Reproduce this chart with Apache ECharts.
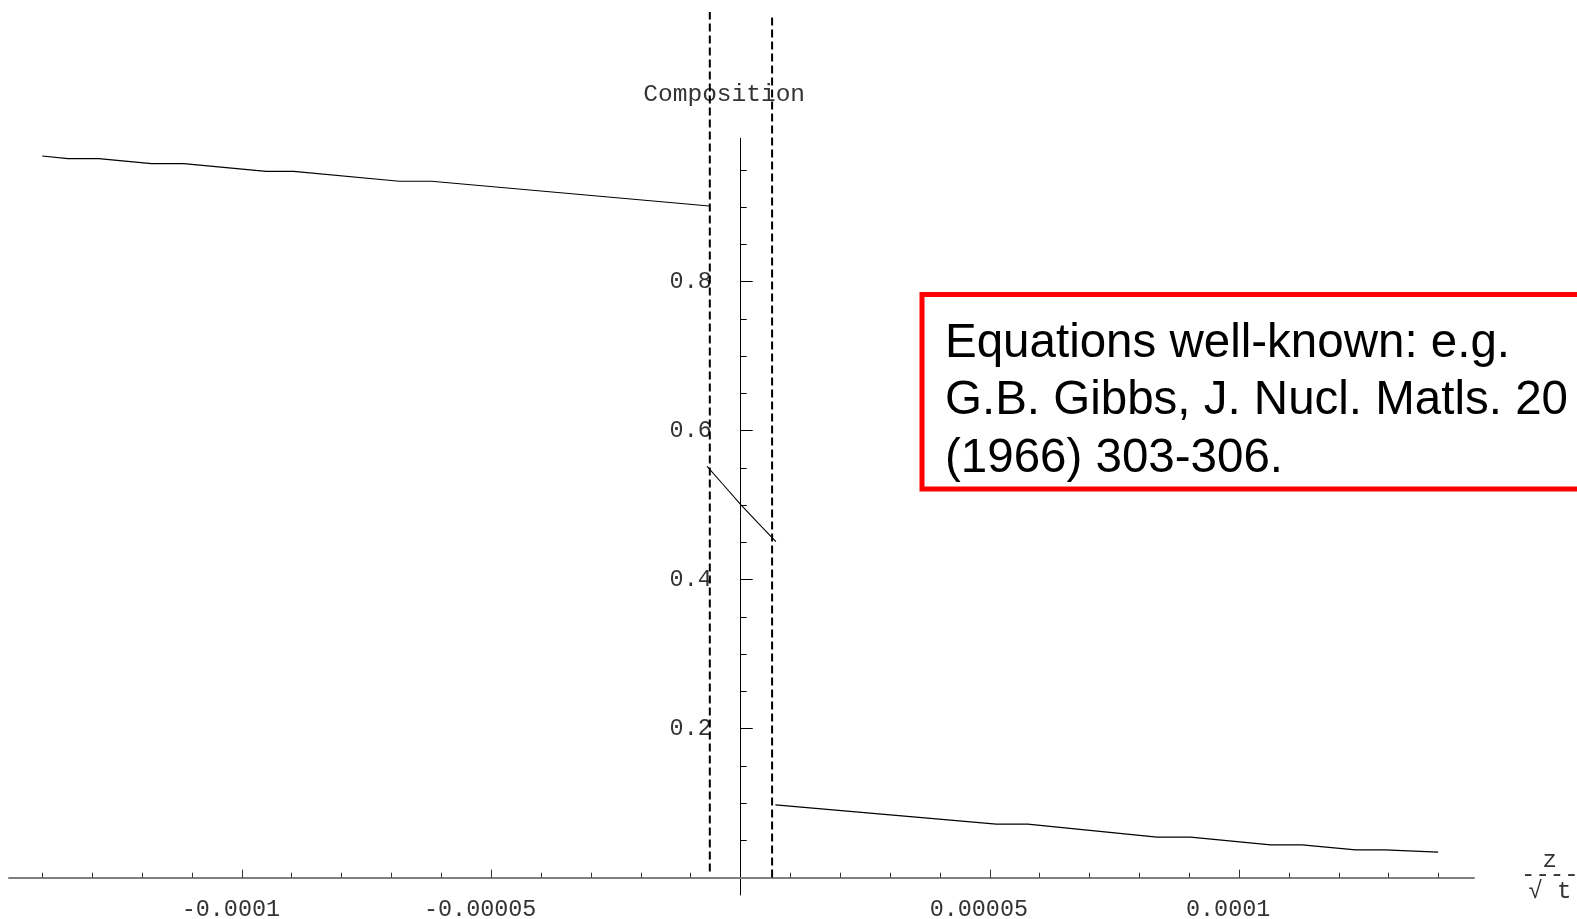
<!DOCTYPE html>
<html>
<head>
<meta charset="utf-8">
<script src="https://cdn.jsdelivr.net/npm/echarts@6/dist/echarts.min.js"></script>
<style>
html,body{margin:0;padding:0;background:#fff;}
#chart{width:1577px;height:919px;}
</style>
</head>
<body>
<div id="chart"></div>
<script>
// ---- data ----
const leftCurve = [
  [-1.4004e-4, 0.9687], [-1.3487e-4, 0.9651], [-1.2871e-4, 0.9651],
  [-1.1812e-4, 0.9584], [-1.1167e-4, 0.9584], [-9.511e-5, 0.9482],
  [-8.960e-5, 0.9482], [-6.843e-5, 0.9348], [-6.197e-5, 0.9348],
  [-6.27e-6, 0.9016]
];
const middleCurve = [
  [-6.7e-6, 0.552], [-3.4e-6, 0.527], [0, 0.501], [3.5e-6, 0.476], [7.1e-6, 0.451]
];
const rightCurve = [
  [7.0e-6, 0.0976], [5.13e-5, 0.0717], [5.758e-5, 0.0717],
  [8.352e-5, 0.0542], [9.024e-5, 0.0542], [1.0633e-4, 0.0439],
  [1.1261e-4, 0.0439], [1.2335e-4, 0.0372], [1.2917e-4, 0.0372],
  [1.3992e-4, 0.0341]
];
const leftBoundary = [[-6.155e-6, 0.008], [-6.155e-6, 1.162]];
const rightBoundary = [[6.335e-6, 0.0], [6.335e-6, 1.156]];

const xMajorTicks = [-1e-4, -5e-5, 5e-5, 1e-4];
const xMajorLabels = ['-0.0001', '-0.00005', '0.00005', '0.0001'];
const xMinorTicks = [-1.4e-4, -1.3e-4, -1.2e-4, -1.1e-4, -9e-5, -8e-5, -7e-5, -6e-5,
  -4e-5, -3e-5, -2e-5, -1e-5, 1e-5, 2e-5, 3e-5, 4e-5, 6e-5, 7e-5, 8e-5, 9e-5,
  1.1e-4, 1.2e-4, 1.3e-4, 1.4e-4];
const yMajorTicks = [0.2, 0.4, 0.6, 0.8];
const yMajorLabels = ['0.2', '0.4', '0.6', '0.8'];
const yMinorTicks = [0.05, 0.1, 0.15, 0.25, 0.3, 0.35, 0.45, 0.5, 0.55, 0.65, 0.7,
  0.75, 0.85, 0.9, 0.95];

const yName = 'Composition';
const noteLines = ['Equations well-known: e.g.', 'G.B. Gibbs, J. Nucl. Matls. 20', '(1966) 303-306.'];

// ---- chart ----
const MONO = '"Liberation Mono", "DejaVu Sans Mono", monospace';
const chart = echarts.init(document.getElementById('chart'), null, {renderer: 'canvas'});

function labelFor(values, labels) {
  return function (v) {
    for (let i = 0; i < values.length; i++) {
      if (Math.abs(values[i] - v) < 1e-12) return labels[i];
    }
    return '';
  };
}

const xMin = -1.467e-4, xMax = 1.471e-4;
const yMin = -0.0235, yMax = 0.9925;
const TXT = '#333';
const G = {containLabel: false, outerBoundsMode: 'none'};

const option = {
  animation: false,
  backgroundColor: '#fff',
  grid: [
    // 0: main plotting grid
    Object.assign({left: 9, right: 103, top: 138.3, bottom: 24}, G),
    // 1: narrow grid whose left edge is x = 0, carries the vertical axis
    Object.assign({left: 740.7, width: 1, top: 138.3, bottom: 24}, G),
    // 2: flat grid whose bottom edge is y = 0, carries the horizontal axis
    Object.assign({left: 9, right: 103, top: 876.7, bottom: 41.3}, G)
  ],
  xAxis: [
    {gridIndex: 0, type: 'value', min: xMin, max: xMax, show: false},
    {gridIndex: 1, type: 'value', min: 0, max: 1, show: false},
    {
      gridIndex: 2, type: 'value', min: xMin, max: xMax, position: 'bottom',
      name: '{z|z}\n{bar|----}\n{r|√ t}',
      nameLocation: 'end', nameGap: 47,
      nameTextStyle: {
        fontFamily: MONO, fontSize: 24, color: TXT, align: 'left',
        rich: {
          z: {fontFamily: MONO, fontSize: 24, color: TXT, lineHeight: 16, align: 'center'},
          bar: {fontFamily: MONO, fontSize: 24, color: TXT, lineHeight: 12, align: 'center'},
          r: {fontFamily: MONO, fontSize: 24, color: TXT, lineHeight: 22, align: 'center'}
        }
      },
      axisLine: {show: true, onZero: false, lineStyle: {color: '#808080', width: 2}},
      axisTick: {show: true, inside: true, length: 8, customValues: xMajorTicks,
        lineStyle: {color: '#333', width: 1}},
      axisLabel: {show: true, customValues: xMajorTicks, formatter: labelFor(xMajorTicks, xMajorLabels),
        fontFamily: MONO, fontSize: 23.4, color: TXT, margin: 21, padding: [0, 22, 0, 0]},
      splitLine: {show: false}, minorTick: {show: false}
    },
    {
      gridIndex: 2, type: 'value', min: xMin, max: xMax, position: 'bottom',
      axisLine: {show: false, onZero: false},
      axisTick: {show: true, inside: true, length: 5, customValues: xMinorTicks,
        lineStyle: {color: '#333', width: 1}},
      axisLabel: {show: false},
      splitLine: {show: false}
    }
  ],
  yAxis: [
    {gridIndex: 0, type: 'value', min: yMin, max: yMax, show: false},
    {
      gridIndex: 1, type: 'value', min: yMin, max: yMax, position: 'left',
      name: yName, nameLocation: 'end', nameGap: 31,
      nameTextStyle: {fontFamily: MONO, fontSize: 24.5, color: TXT, align: 'center', padding: [0, 33, 0, 0]},
      axisLine: {show: true, onZero: false, lineStyle: {color: '#000', width: 1}},
      axisTick: {show: true, inside: true, length: 12, customValues: yMajorTicks,
        lineStyle: {color: '#000', width: 1}},
      axisLabel: {show: true, customValues: yMajorTicks, formatter: labelFor(yMajorTicks, yMajorLabels),
        fontFamily: MONO, fontSize: 23.4, color: TXT, margin: 29},
      splitLine: {show: false}
    },
    {
      gridIndex: 1, type: 'value', min: yMin, max: yMax, position: 'left',
      axisLine: {show: false, onZero: false},
      axisTick: {show: true, inside: true, length: 6, customValues: yMinorTicks,
        lineStyle: {color: '#000', width: 1}},
      axisLabel: {show: false},
      splitLine: {show: false}
    },
    {gridIndex: 2, type: 'value', min: 0, max: 1, show: false}
  ],
  series: [
    {type: 'line', xAxisIndex: 0, yAxisIndex: 0, data: leftCurve, symbol: 'none', lineStyle: {color: '#000', width: 1.2}},
    {type: 'line', xAxisIndex: 0, yAxisIndex: 0, data: middleCurve, symbol: 'none', lineStyle: {color: '#000', width: 1.1}},
    {type: 'line', xAxisIndex: 0, yAxisIndex: 0, data: rightCurve, symbol: 'none', lineStyle: {color: '#000', width: 1.2}},
    {type: 'line', xAxisIndex: 0, yAxisIndex: 0, data: leftBoundary, symbol: 'none', clip: false,
      lineStyle: {color: '#000', width: 2, type: [8, 4]}},
    {type: 'line', xAxisIndex: 0, yAxisIndex: 0, data: rightBoundary, symbol: 'none', clip: false,
      lineStyle: {color: '#000', width: 2, type: [8, 4]}}
  ],
  graphic: [
    {
      type: 'rect', z: 100,
      shape: {x: 922, y: 294.5, width: 700, height: 194.5},
      style: {fill: '#fff', stroke: '#ff0000', lineWidth: 5}
    },
    {
      type: 'text', z: 101, x: 945, y: 315,
      style: {
        text: noteLines.join('\n'),
        font: '47.5px "Liberation Sans", Arial, sans-serif',
        fill: '#000', lineHeight: 57.5, verticalAlign: 'top', align: 'left'
      }
    }
  ]
};
chart.setOption(option);
</script>
</body>
</html>
